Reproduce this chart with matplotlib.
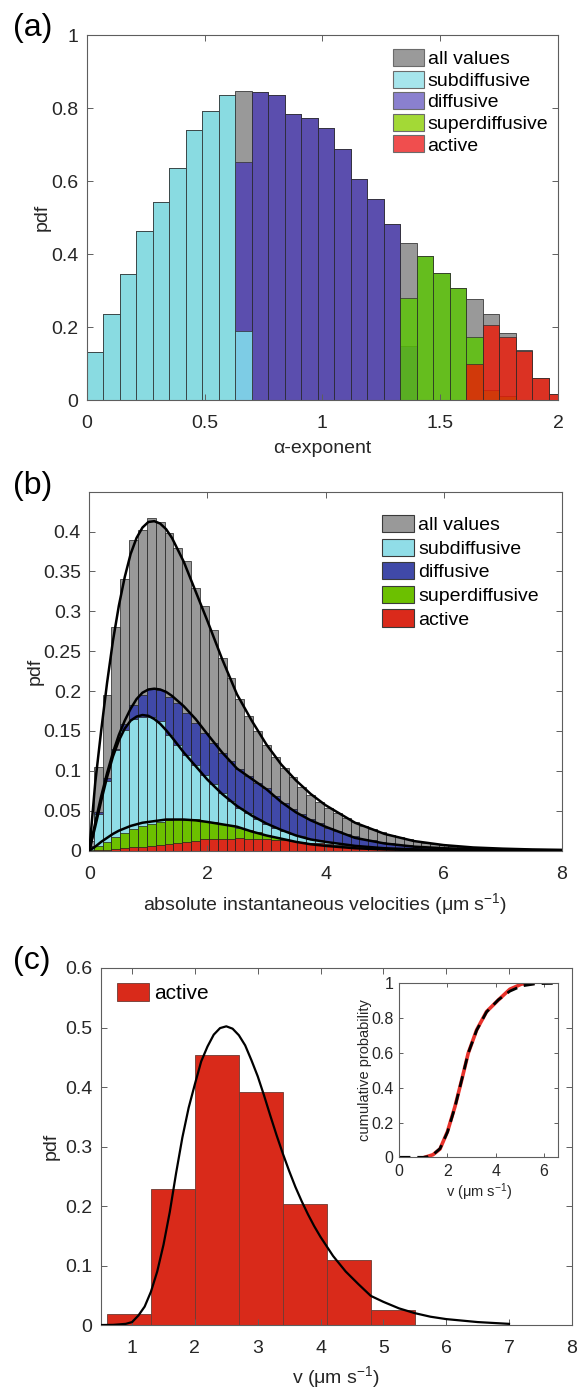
import numpy as np
import matplotlib
matplotlib.use('Agg')
import matplotlib.pyplot as plt
from matplotlib.patches import Patch
from matplotlib.ticker import FuncFormatter

plt.rcParams['font.family'] = ['Liberation Sans', 'DejaVu Sans']
plt.rcParams['mathtext.fontset'] = 'custom'
plt.rcParams['mathtext.rm'] = 'Liberation Sans'
plt.rcParams['mathtext.it'] = 'Liberation Sans'

# ---------------- (a) alpha-exponent histograms (bin width 0.07) ----------------
alpha_edges = np.round(np.arange(29) * 0.07, 2)
alpha_all = [0.132, 0.235, 0.345, 0.464, 0.542, 0.637, 0.740, 0.791, 0.836, 0.847,
             0.843, 0.837, 0.784, 0.774, 0.745, 0.688, 0.605, 0.551, 0.482, 0.429,
             0.395, 0.349, 0.306, 0.276, 0.237, 0.184, 0.137, 0.060, 0.016]
alpha_sub = [0.132, 0.235, 0.345, 0.464, 0.542, 0.637, 0.740, 0.791, 0.836, 0.190,
             0, 0, 0, 0, 0, 0, 0, 0, 0, 0, 0, 0, 0, 0, 0, 0, 0, 0, 0]
alpha_dif = [0, 0, 0, 0, 0, 0, 0, 0, 0, 0.651,
             0.843, 0.837, 0.784, 0.774, 0.745, 0.688, 0.605, 0.551, 0.482, 0.148,
             0, 0, 0, 0, 0, 0, 0, 0, 0]
alpha_sup = [0, 0, 0, 0, 0, 0, 0, 0, 0, 0,
             0, 0, 0, 0, 0, 0, 0, 0, 0, 0.280,
             0.395, 0.349, 0.306, 0.172, 0.027, 0.011, 0, 0, 0]
alpha_act = [0, 0, 0, 0, 0, 0, 0, 0, 0, 0,
             0, 0, 0, 0, 0, 0, 0, 0, 0, 0,
             0, 0, 0, 0.100, 0.207, 0.174, 0.135, 0.060, 0.016]

# ---------------- (b) velocity histograms (bin width 0.15) ----------------
v_centers = np.round(np.arange(54) * 0.15, 2)
v_all = [0.012, 0.105, 0.195, 0.280, 0.341, 0.389, 0.402, 0.417, 0.412, 0.398,
         0.379, 0.363, 0.329, 0.307, 0.276, 0.241, 0.217, 0.190, 0.169, 0.150,
         0.132, 0.117, 0.103, 0.092, 0.080, 0.070, 0.061, 0.054, 0.047, 0.041,
         0.036, 0.031, 0.027, 0.023, 0.020, 0.017, 0.014, 0.012, 0.010, 0.008,
         0.007, 0.006, 0.005, 0.0045, 0.004, 0.0035, 0.003, 0.0025, 0.002, 0.002,
         0.0015, 0.0015, 0.001, 0.001]
v_dif = [0.006, 0.049, 0.091, 0.128, 0.159, 0.183, 0.195, 0.203, 0.201, 0.192,
         0.185, 0.172, 0.160, 0.148, 0.135, 0.123, 0.112, 0.102, 0.093, 0.085,
         0.078, 0.068, 0.060, 0.052, 0.046, 0.040, 0.035, 0.029, 0.025, 0.021,
         0.018, 0.015, 0.013, 0.011, 0.009, 0.0075, 0.0065, 0.0055, 0.0045, 0.004,
         0.0035, 0.003, 0.0025, 0.002, 0.0018, 0.0015, 0.0013, 0.0011, 0.001, 0.0008,
         0.0007, 0.0006, 0.0005, 0.0004]
v_sub = [0.005, 0.046, 0.087, 0.126, 0.151, 0.165, 0.168, 0.167, 0.162, 0.145,
         0.133, 0.120, 0.107, 0.095, 0.083, 0.072, 0.062, 0.054, 0.047, 0.040,
         0.034, 0.029, 0.025, 0.021, 0.018, 0.015, 0.013, 0.011, 0.009, 0.0075,
         0.0063, 0.0053, 0.0045, 0.0038, 0.0032, 0.0027, 0.0022, 0.0018, 0.0015, 0.0012,
         0.001, 0.0008, 0.0007, 0.0006, 0.0005, 0.0004, 0.0004, 0.0003, 0.0003, 0.0002,
         0.0002, 0.0002, 0.0001, 0.0001]
v_sup = [0.001, 0.006, 0.011, 0.017, 0.022, 0.027, 0.031, 0.034, 0.036, 0.038,
         0.040, 0.039, 0.040, 0.037, 0.036, 0.034, 0.032, 0.029, 0.026, 0.023,
         0.020, 0.017, 0.015, 0.012, 0.010, 0.009, 0.007, 0.006, 0.005, 0.004,
         0.0035, 0.003, 0.0025, 0.002, 0.0015, 0.0012, 0.001, 0.0008, 0.0007, 0.0006,
         0.0005, 0.0004, 0.0003, 0.0003, 0.0002, 0.0002, 0.0002, 0.0001, 0.0001, 0.0001,
         0.0001, 0.0001, 0, 0]
v_act = [0, 0.0005, 0.001, 0.002, 0.003, 0.004, 0.005, 0.006, 0.007, 0.008,
         0.009, 0.011, 0.012, 0.014, 0.015, 0.015, 0.015, 0.016, 0.015, 0.015,
         0.014, 0.013, 0.013, 0.012, 0.011, 0.010, 0.009, 0.008, 0.007, 0.006,
         0.006, 0.005, 0.004, 0.004, 0.003, 0.003, 0.002, 0.002, 0.0015, 0.0012,
         0.001, 0.0008, 0.0007, 0.0006, 0.0005, 0.0004, 0.0003, 0.0003, 0.0002, 0.0002,
         0.0001, 0.0001, 0.0001, 0]

# fitted pdf curves
fit_x = [0, 0.1, 0.2, 0.3, 0.4, 0.5, 0.6, 0.7, 0.8, 0.9, 1.0, 1.1, 1.2, 1.3, 1.4,
         1.6, 1.8, 2.0, 2.25, 2.5, 2.75, 3.0, 3.25, 3.5, 3.75, 4.0, 4.5, 5.0,
         5.5, 6.0, 6.5, 7.0, 7.5, 8.0]
fit_all = [0, 0.085, 0.150, 0.210, 0.263, 0.307, 0.343, 0.372, 0.392, 0.405, 0.412,
           0.413, 0.410, 0.403, 0.392, 0.362, 0.325, 0.288, 0.240, 0.196, 0.163,
           0.133, 0.108, 0.088, 0.071, 0.057, 0.035, 0.021, 0.012, 0.007, 0.004,
           0.0025, 0.0015, 0.001]
fit_dif = [0, 0.035, 0.068, 0.097, 0.123, 0.145, 0.163, 0.178, 0.190, 0.198, 0.202,
           0.203, 0.202, 0.199, 0.194, 0.181, 0.165, 0.146, 0.123, 0.103, 0.090,
           0.077, 0.061, 0.048, 0.038, 0.030, 0.016, 0.009, 0.005, 0.003, 0.002,
           0.001, 0.0006, 0.0004]
fit_sub = [0, 0.030, 0.062, 0.092, 0.118, 0.138, 0.153, 0.163, 0.168, 0.170, 0.169,
           0.165, 0.159, 0.151, 0.142, 0.123, 0.106, 0.089, 0.071, 0.056, 0.044,
           0.034, 0.026, 0.019, 0.014, 0.011, 0.006, 0.003, 0.0017, 0.001, 0.0006,
           0.0003, 0.0002, 0.0001]
fit_sup = [0, 0.005, 0.011, 0.016, 0.021, 0.025, 0.028, 0.031, 0.033, 0.035, 0.036,
           0.037, 0.038, 0.039, 0.039, 0.039, 0.038, 0.036, 0.033, 0.030, 0.024,
           0.019, 0.015, 0.011, 0.008, 0.006, 0.003, 0.0015, 0.0008, 0.0004, 0.0002,
           0.0001, 0.0001, 0]

# ---------------- (c) active velocities ----------------
act_edges = [0.6, 1.3, 2.0, 2.7, 3.4, 4.1, 4.8]
act_pdf = [0.018, 0.228, 0.453, 0.391, 0.204, 0.110, 0.026]
act_fit_x = [0.5, 0.7, 0.9, 1.0, 1.1, 1.2, 1.3, 1.4, 1.5, 1.6, 1.7, 1.8, 1.9, 2.0,
             2.1, 2.2, 2.3, 2.4, 2.5, 2.6, 2.7, 2.8, 2.9, 3.0, 3.1, 3.2, 3.3, 3.4,
             3.5, 3.6, 3.7, 3.8, 3.9, 4.0, 4.2, 4.4, 4.6, 4.8, 5.0, 5.25, 5.5, 5.75,
             6.0, 6.5, 7.0]
act_fit_y = [0, 0.0003, 0.002, 0.005, 0.016, 0.031, 0.056, 0.090, 0.135, 0.190,
             0.255, 0.315, 0.365, 0.405, 0.443, 0.468, 0.488, 0.499, 0.502, 0.498,
             0.487, 0.470, 0.445, 0.418, 0.386, 0.352, 0.319, 0.288, 0.259, 0.232,
             0.208, 0.186, 0.166, 0.148, 0.116, 0.090, 0.069, 0.049, 0.039, 0.028,
             0.020, 0.014, 0.010, 0.005, 0.002]
cdf_x = [1.06, 1.4, 1.69, 2.0, 2.31, 2.59, 2.86, 3.21, 3.62, 4.11, 4.59, 5.08, 5.53]
cdf_y = [0, 0.015, 0.048, 0.148, 0.291, 0.444, 0.598, 0.732, 0.837, 0.904, 0.966, 0.996, 1.0]
cdf_fit_x = [0, 1.0, 1.2, 1.4, 1.69, 2.0, 2.31, 2.59, 2.86, 3.21, 3.62, 4.11, 4.59,
             5.08, 5.6, 6.0, 6.6]
cdf_fit_y = [0, 0, 0.004, 0.015, 0.05, 0.145, 0.288, 0.445, 0.598, 0.73, 0.835, 0.905,
             0.955, 0.985, 0.996, 0.999, 1.0]

labels = ['all values', 'subdiffusive', 'diffusive', 'superdiffusive', 'active']
txt_col = '#262626'

fig = plt.figure(figsize=(5.77, 13.92), dpi=100)
tick_fmt = FuncFormatter(lambda v, p: '%g' % round(v, 3))


def style_axes(ax, size=14, length=4.5, xpad=11, ypad=6):
    for s in ax.spines.values():
        s.set_color('#5e5e5e')
        s.set_linewidth(0.8)
    ax.tick_params(direction='in', top=True, right=True, length=length, width=0.7,
                   color='#5e5e5e', labelsize=size, labelcolor=txt_col)
    ax.tick_params(axis='x', pad=xpad)
    ax.tick_params(axis='y', pad=ypad)
    ax.xaxis.set_major_formatter(tick_fmt)
    ax.yaxis.set_major_formatter(tick_fmt)


def put_labels(ax, xl, yl, xy, yx, size=14):
    ax.set_xlabel(xl, fontsize=size, color=txt_col, va='center')
    ax.set_ylabel(yl, fontsize=size, color=txt_col, va='center')
    ax.xaxis.set_label_coords(0.5, xy)
    ax.yaxis.set_label_coords(yx, 0.5)


# ---- panel (a)
ax1 = fig.add_axes([0.1503, 0.7126, 0.8168, 0.2622])
edges_a = np.array(alpha_edges)
ax1.bar(edges_a, alpha_all, width=0.07, align='edge', color='#999999',
        edgecolor='#3a3a3a', linewidth=0.6)
for vals, col in [(alpha_dif, '#4C3CB4'), (alpha_sub, '#86EDF4'),
                  (alpha_sup, '#59C700'), (alpha_act, '#ED1806')]:
    vals = np.array(vals)
    m = vals > 0
    ax1.bar(edges_a[m], vals[m], width=0.07, align='edge', color=col, alpha=0.8,
            edgecolor='#2a2a2a', linewidth=0.6)
ax1.set_xlim(0, 2)
ax1.set_ylim(0, 1)
ax1.set_xticks([0, 0.5, 1, 1.5, 2])
ax1.set_yticks([0, 0.2, 0.4, 0.6, 0.8, 1])
style_axes(ax1)
put_labels(ax1, 'α-exponent', 'pdf', -0.133, -0.0955)
leg_a = [Patch(facecolor=c, edgecolor='#6b6b6b', linewidth=0.8) for c in
         ['#9A9A9A', '#A6E5EC', '#8A80CF', '#A3D936', '#F04E4E']]
ax1.legend(leg_a, labels, loc='upper left', bbox_to_anchor=(0.649, 0.962),
           frameon=False, fontsize=14, borderpad=0, borderaxespad=0,
           handlelength=1.6, handleheight=0.98, handletextpad=0.2, labelspacing=0.12)

# ---- panel (b)
ax2 = fig.add_axes([0.1548, 0.3889, 0.8187, 0.2579])
cols_b = ['#999999', '#90DDE7', '#4049A8', '#6CC000', '#DA2A1B']
for vals, col in [(v_all, cols_b[0]), (v_dif, cols_b[2]), (v_sub, cols_b[1]),
                  (v_sup, cols_b[3]), (v_act, cols_b[4])]:
    vals = np.array(vals)
    m = vals > 0
    ax2.bar(v_centers[m], vals[m], width=0.15, color=col, edgecolor='#1e1e1e',
            linewidth=0.5)
for fy in [fit_all, fit_dif, fit_sub, fit_sup]:
    ax2.plot(fit_x, fy, color='black', lw=1.8, zorder=3)
ax2.set_xlim(0, 8)
ax2.set_ylim(0, 0.45)
ax2.set_xticks([0, 2, 4, 6, 8])
ax2.set_yticks([0, 0.05, 0.1, 0.15, 0.2, 0.25, 0.3, 0.35, 0.4])
style_axes(ax2)
put_labels(ax2, r'absolute instantaneous velocities (μm s$^{-1}$)', 'pdf', -0.1485, -0.115)
leg_b = [Patch(facecolor=c, edgecolor='#3a3a3a', linewidth=0.8) for c in cols_b]
ax2.legend(leg_b, labels, loc='upper left', bbox_to_anchor=(0.62, 0.935),
           frameon=False, fontsize=14, borderpad=0, borderaxespad=0,
           handlelength=1.65, handleheight=0.99, handletextpad=0.2, labelspacing=0.22)

# ---- panel (c)
ax3 = fig.add_axes([0.1745, 0.0481, 0.8165, 0.2565])
ax3.bar(act_edges, act_pdf, width=0.7, align='edge', color='#D92A1A',
        edgecolor='#6e3a32', linewidth=0.6, label='active')
ax3.plot(act_fit_x, act_fit_y, color='black', lw=1.6, zorder=3)
ax3.set_xlim(0.5, 8)
ax3.set_ylim(0, 0.6)
ax3.set_xticks([1, 2, 3, 4, 5, 6, 7, 8])
ax3.set_yticks([0, 0.1, 0.2, 0.3, 0.4, 0.5, 0.6])
style_axes(ax3)
put_labels(ax3, r'v (μm s$^{-1}$)', 'pdf', -0.1465, -0.1044)
ax3.legend(loc='upper left', bbox_to_anchor=(0.035, 0.959), frameon=False,
           fontsize=15, borderpad=0, borderaxespad=0, handlelength=1.55,
           handleheight=1.0, handletextpad=0.2)

# ---- inset
ax4 = fig.add_axes([0.692, 0.1686, 0.2756, 0.125])
ax4.plot(cdf_x, cdf_y, color='#E8312A', lw=2.6)
ax4.plot(cdf_fit_x, cdf_fit_y, color='black', lw=2.0, ls=(0, (4, 2.5)))
ax4.set_xlim(0, 6.6)
ax4.set_ylim(0, 1)
ax4.set_xticks([0, 2, 4, 6])
ax4.set_yticks([0, 0.2, 0.4, 0.6, 0.8, 1])
style_axes(ax4, size=11.5, length=3, xpad=5, ypad=4)
put_labels(ax4, r'v (μm s$^{-1}$)', 'cumulative probability', -0.2, -0.216, size=10.5)

for txt, y in [('(a)', 0.980), ('(b)', 0.651), ('(c)', 0.3096)]:
    fig.text(0.0225, y, txt, fontsize=23, ha='left', va='center', color='black')

fig.savefig('out.png', dpi=100)
